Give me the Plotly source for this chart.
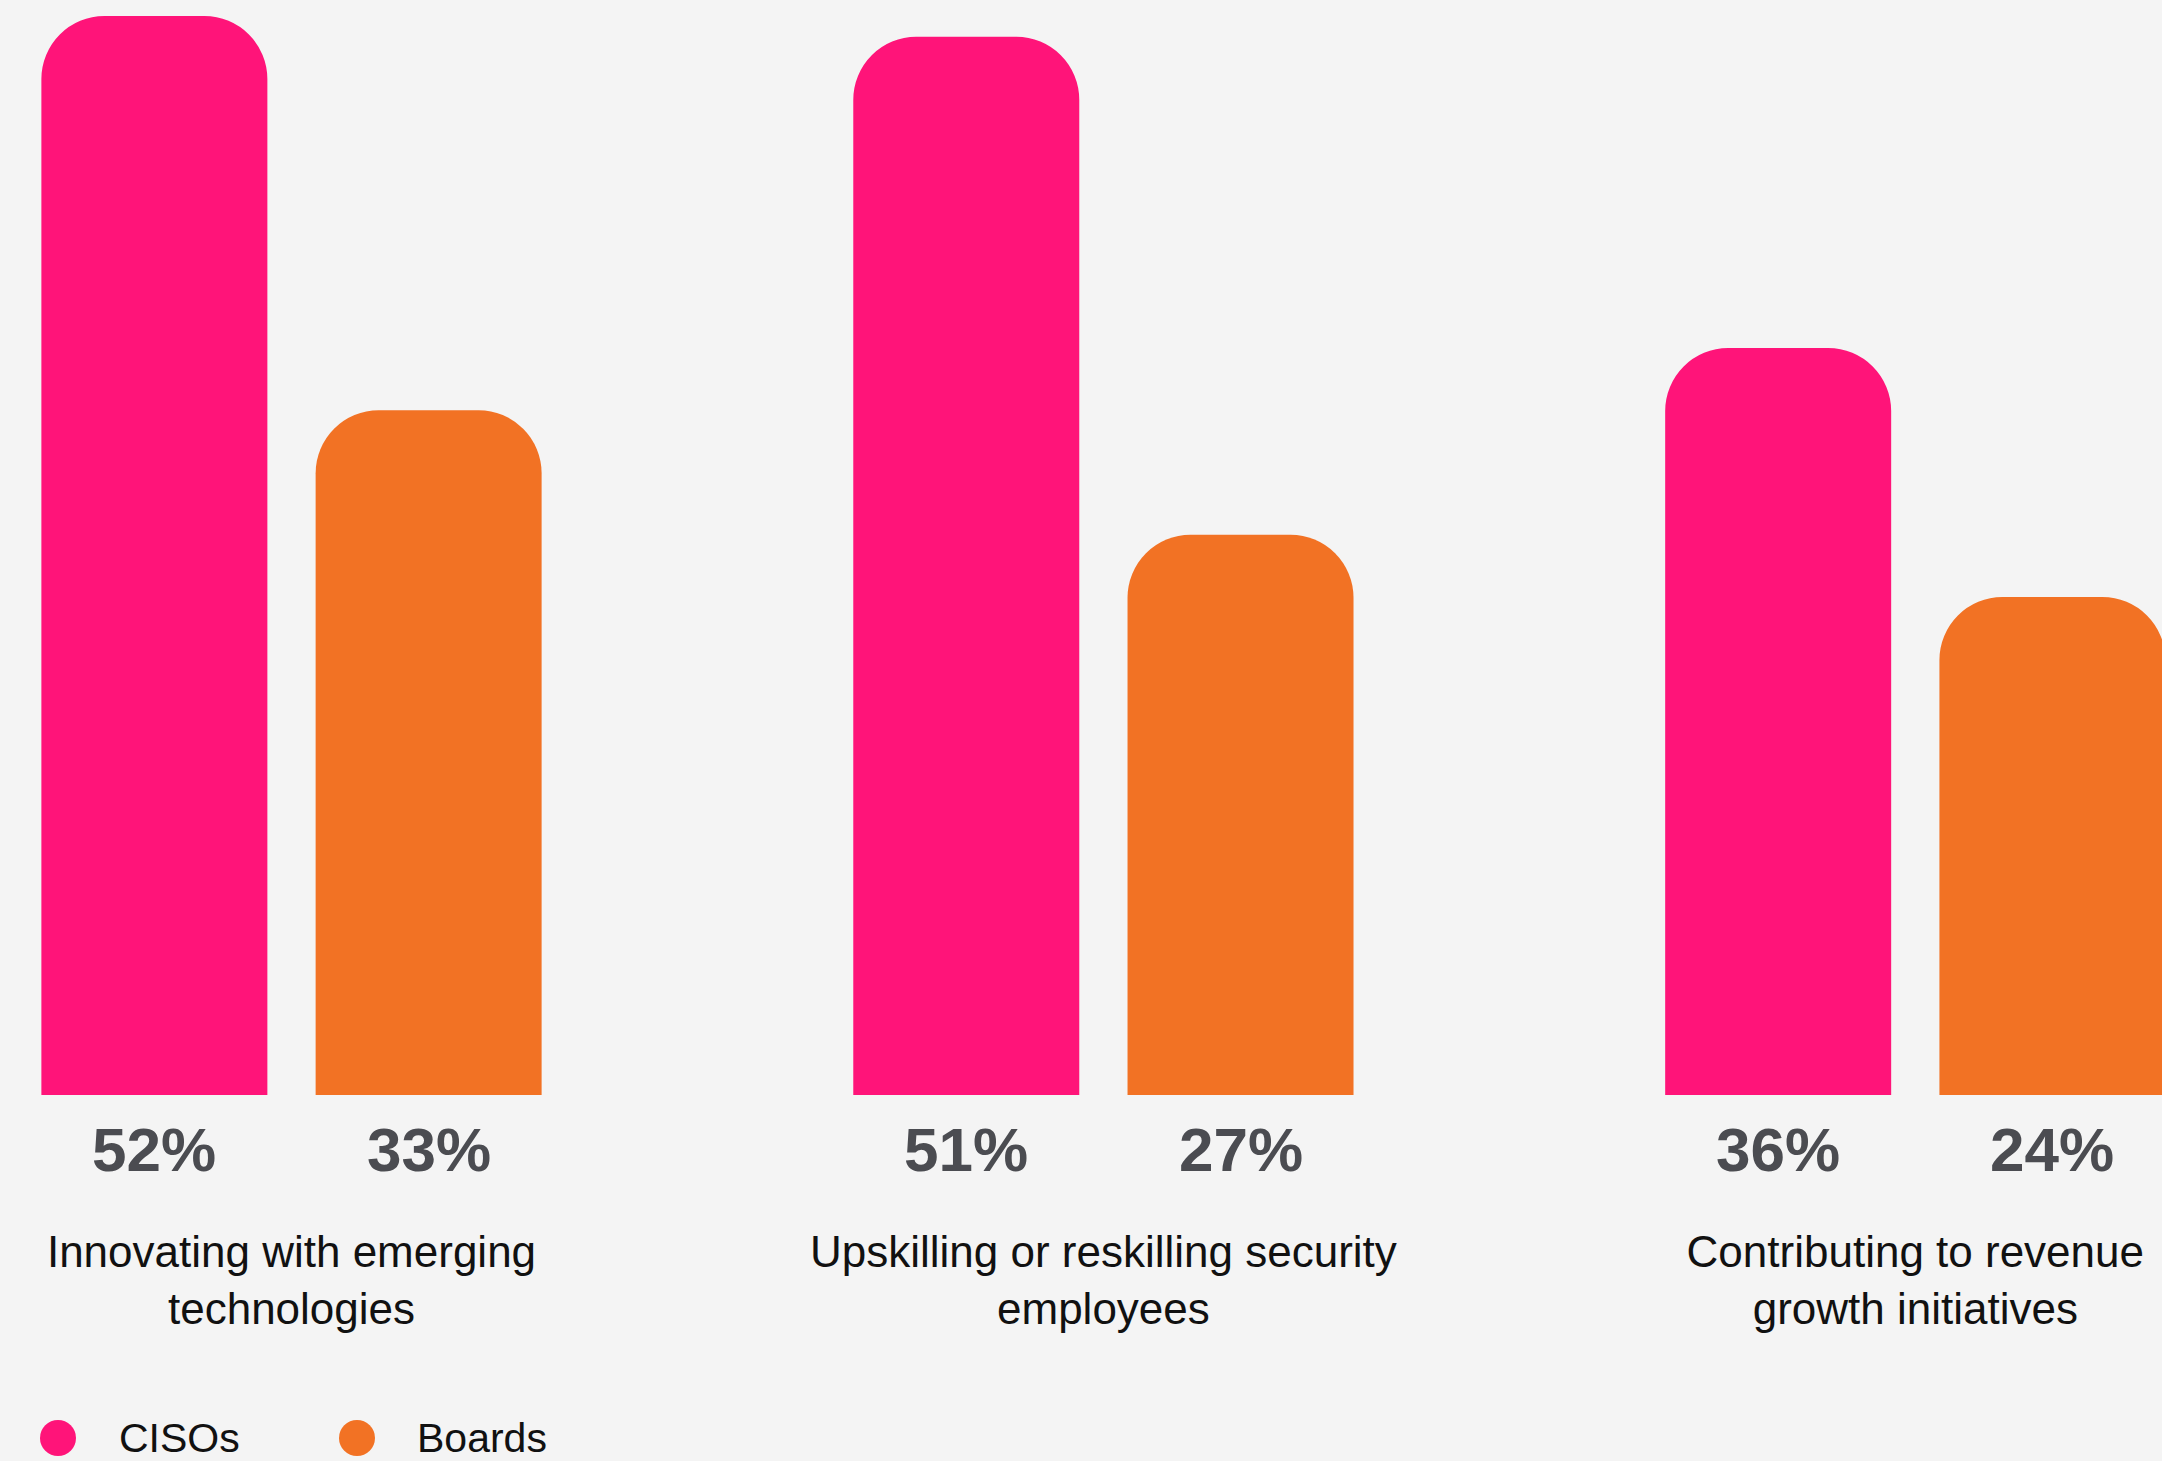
import plotly.graph_objects as go

categories = [
    "Innovating with emerging<br>technologies",
    "Upskilling or reskilling security<br>employees",
    "Contributing to revenue<br>growth initiatives",
]
series_names = ["CISOs", "Boards"]
cisos = [52, 51, 36]
boards = [33, 27, 24]
colors = ["#FF1479", "#F27224"]

W, H = 2162, 1461
plot_h = 1095
bottom = H - plot_h
px_per_pct = 20.75
unit_px = 811.9
x_left = -291.5 / unit_px
x_right = (W - 291.5) / unit_px

bargap = 0.3244
bargroupgap = 0.176
slot_px = (1 - bargap) / 2 * unit_px

fig = go.Figure()
for name, vals, col in zip(series_names, [cisos, boards], colors):
    fig.add_trace(go.Bar(
        x=categories, y=vals, name=name, marker=dict(color=col, line=dict(width=0)),
        showlegend=False, hoverinfo="skip",
    ))

annotations = []
for i, (name, vals) in enumerate(zip(series_names, [cisos, boards])):
    shift = (i - 0.5) * slot_px
    for c, v in zip(categories, vals):
        annotations.append(dict(
            x=c, y=0, xref="x", yref="y", text=f"{v}%", showarrow=False,
            xanchor="center", yanchor="middle", xshift=shift, yshift=-54,
            font=dict(family="Liberation Sans", size=62, color="#4B4C51", weight="bold"),
        ))

# legend built from circles and text
legend_y = (plot_h - 1438) / plot_h
legend_circle_x = [58, 357]
legend_text_x = [117, 415]
shapes = []
for name, col, cx, tx in zip(series_names, colors, legend_circle_x, legend_text_x):
    shapes.append(dict(
        type="circle", xref="paper", yref="paper", xsizemode="pixel", ysizemode="pixel",
        xanchor=cx / W, yanchor=legend_y, x0=-18, x1=18, y0=-18, y1=18,
        fillcolor=col, line=dict(width=0),
    ))
    annotations.append(dict(
        x=tx / W, y=legend_y, xref="paper", yref="paper", text=name, showarrow=False,
        xanchor="left", yanchor="middle",
        font=dict(family="Liberation Sans", size=41, color="#111111"),
    ))

fig.update_layout(
    width=W, height=H,
    margin=dict(l=0, r=0, t=0, b=bottom, pad=0),
    paper_bgcolor="#F4F4F4", plot_bgcolor="#F4F4F4",
    barmode="group", bargap=bargap, bargroupgap=bargroupgap, barcornerradius=63,
    xaxis=dict(range=[x_left, x_right], showgrid=False, zeroline=False, showline=False,
               ticks="", ticklabelstandoff=127,
               tickfont=dict(family="Liberation Sans", size=44, color="#111111")),
    yaxis=dict(range=[0, plot_h / px_per_pct], visible=False, showgrid=False, zeroline=False),
    annotations=annotations, shapes=shapes,
)

fig.write_html("out.html")
